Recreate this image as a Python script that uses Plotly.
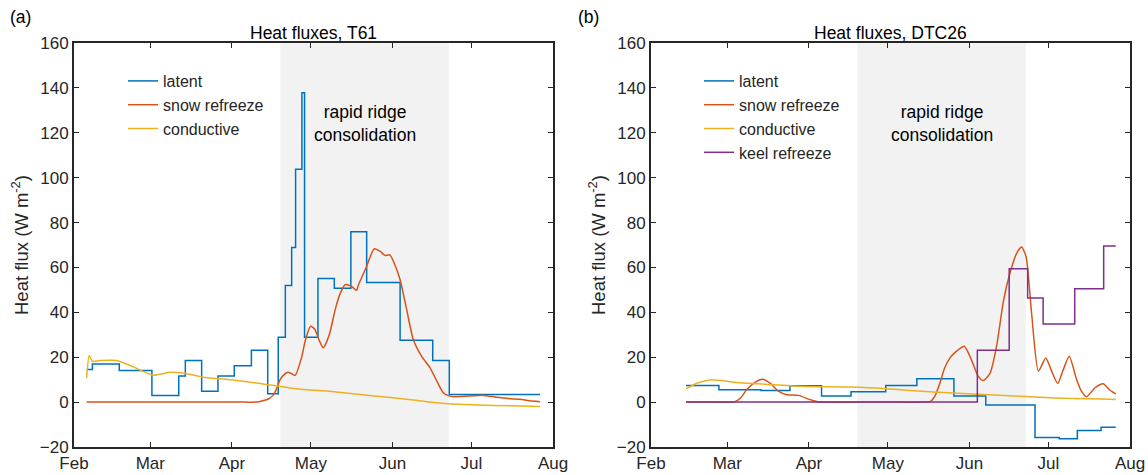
import numpy as np
import pandas as pd
import plotly.graph_objects as go

T0 = pd.Timestamp("2020-02-01")

# ---- Panel (a): T61 (x = days since 1 Feb 2020) ----
a_lat_days = [4.8, 7.0, 17.2, 29.6, 39.8, 42.3, 48.5, 54.7, 60.9, 67.4, 73.6, 77.6, 80.3,
              82.7, 84.2, 86.6, 87.6, 92.7, 98.9, 105.2, 111.2, 123.9, 136.3, 142.6, 177.1]
a_lat_vals = [14.5, 17.0, 14.1, 3.0, 11.6, 18.5, 4.8, 11.6, 16.2, 23.1, 3.7, 28.9, 51.9,
              68.9, 103.7, 137.8, 28.9, 55.1, 50.7, 75.9, 53.3, 27.6, 18.5, 3.4, 3.4]

a_snow_days = [4.8, 30.0, 50.0, 65.0, 69.0, 70.7, 72.5, 74.0, 75.6, 77.0, 78.3, 80.0, 81.3,
               82.5, 84.0, 86.5, 88.0, 89.9, 91.5, 93.0, 94.7, 97.0, 99.2,
               101.0, 103.0, 105.5, 107.4, 108.0, 111.0, 114.1, 116.5, 118.2, 120.0, 122.0,
               123.9, 126.4, 128.9, 132.1, 135.3, 138.0, 140.3, 142.5, 144.1, 147.0, 150.0,
               155.5, 160.0, 163.1, 166.0, 169.5, 173.0, 177.1]
a_snow_vals = [0.0, 0.0, 0.0, 0.0, 0.0, 0.3, 0.8, 1.5, 3.0, 6.0, 10.0, 12.5, 13.3,
               12.8, 11.9, 20.0, 28.0, 33.8, 32.5, 28.0, 24.2, 30.0, 41.0,
               48.0, 52.3, 51.5, 49.8, 52.0, 60.0, 68.3, 67.0, 65.3, 65.6, 61.0,
               54.5, 41.2, 27.9, 20.4, 15.3, 9.0, 4.2, 2.8, 2.4, 2.5, 2.7,
               3.0, 2.3, 1.8, 1.5, 1.3, 0.6, 0.2]

a_cond_days = [4.8, 5.8, 7.0, 10.0, 16.2, 22.5, 30.1, 36.5, 41.5, 49.1, 60.5, 70.7, 83.3,
               96.0, 108.7, 121.3, 134.0, 146.7, 159.3, 177.1]
a_cond_vals = [10.8, 20.8, 18.2, 18.5, 18.5, 15.7, 12.0, 13.3, 13.0, 11.1, 9.8, 8.3, 6.1,
               4.9, 3.4, 1.9, 0.2, -1.0, -1.5, -1.9]

# ---- Panel (b): DTC26 ----
b_lat_days = [13.3, 25.8, 41.8, 52.8, 64.8, 76.0, 89.2, 101.0, 115.1, 127.2, 145.9, 155.1,
              162.0, 171.0, 176.6]
b_lat_vals = [7.4, 5.5, 5.2, 7.3, 2.7, 4.6, 7.4, 10.4, 2.7, -1.3, -15.8, -16.3,
              -12.6, -11.2, -11.2]

b_snow_days = [13.3, 25.0, 30.0, 31.9, 34.0, 36.4, 39.5, 42.4, 45.5, 48.4, 51.6, 56.0,
               60.4, 63.0, 66.0, 80.0, 95.0, 103.0, 106.2, 108.0, 109.8, 111.5, 113.6,
               116.1, 119.0, 121.2, 124.3, 126.2, 128.8, 131.3, 133.9, 136.4, 139.0, 140.8,
               142.5, 144.6, 147.2, 150.0, 152.0, 154.5, 156.5, 158.9, 161.7, 163.5, 165.5,
               168.7, 171.8, 174.4, 176.6]
b_snow_vals = [0.0, 0.0, 0.0, 0.2, 1.8, 5.6, 8.8, 10.2, 8.2, 4.9, 3.3, 3.0,
               1.1, 0.3, 0.0, 0.0, 0.0, 0.0, 0.3, 3.0, 8.6, 15.0, 19.7,
               22.7, 24.9, 20.4, 11.6, 9.6, 12.8, 24.9, 44.9, 57.5, 66.5, 69.1,
               64.9, 39.7, 13.8, 19.7, 14.5, 8.3, 14.0, 20.4, 10.1, 5.0, 2.4,
               6.4, 8.2, 5.3, 3.7]

b_cond_days = [13.3, 17.0, 22.4, 33.8, 44.0, 56.6, 75.6, 88.3, 98.4, 107.3, 132.6, 151.6, 176.6]
b_cond_vals = [5.9, 8.2, 9.9, 8.6, 7.9, 7.1, 6.7, 6.1, 5.2, 4.5, 3.1, 1.9, 1.2]

b_keel_days = [13.3, 124.0, 136.1, 143.1, 149.0, 161.0, 172.0, 176.6]
b_keel_vals = [0.0, 23.1, 59.4, 46.4, 34.8, 50.5, 69.6, 69.6]

shade_days = [78.4, 142.4]
label_pos_days = 110.5
titles = ["Heat fluxes, T61", "Heat fluxes, DTC26"]
names = ["latent", "snow refreeze", "conductive", "keel refreeze"]
colors = ["#0072BD", "#D95319", "#EDB120", "#7E2F8E"]


def to_dates(days):
    return T0 + pd.to_timedelta(np.asarray(days, dtype=float), unit="D")


fig = go.Figure()

FONT = "Arial, Liberation Sans, sans-serif"
TXT = "#262626"

panels = [
    ("x", "y", "legend", [(a_lat_days, a_lat_vals, "hv"), (a_snow_days, a_snow_vals, "spline"),
                         (a_cond_days, a_cond_vals, "spline")]),
    ("x2", "y2", "legend2", [(b_lat_days, b_lat_vals, "hv"), (b_snow_days, b_snow_vals, "spline"),
                            (b_cond_days, b_cond_vals, "spline"), (b_keel_days, b_keel_vals, "hv")]),
]

for xa, ya, lg, series in panels:
    for i, (d, v, shp) in enumerate(series):
        line = dict(color=colors[i], width=1.5, shape=shp)
        if shp == "spline":
            line["smoothing"] = 0.6
        fig.add_trace(go.Scatter(
            x=to_dates(d), y=v, mode="lines", name=names[i], line=line,
            xaxis=xa, yaxis=ya, legend=lg, legendgroup=f"{lg}{i}",
        ))

xr = [T0, to_dates([182])[0]]
common_x = dict(type="date", range=xr, dtick="M1", tick0="2020-02-01", tickformat="%b",
                ticks="inside", ticklen=5, tickwidth=1, tickcolor=TXT, showline=True,
                linecolor=TXT, linewidth=2, mirror="ticks", showgrid=False, zeroline=False,
                automargin=False, tickfont=dict(family=FONT, size=17, color=TXT))
common_y = dict(range=[-20, 160], dtick=20, tick0=0, ticks="inside", ticklen=5, tickwidth=1,
                tickcolor=TXT, showline=True, linecolor=TXT, linewidth=2, mirror="ticks",
                showgrid=False, zeroline=False, automargin=False,
                tickfont=dict(family=FONT, size=17, color=TXT),
                title=dict(text="Heat flux (W m<sup>-2</sup>)", standoff=6,
                           font=dict(family=FONT, size=18.5, color=TXT)))

xl = [74 / 1148, 553 / 1148]
xrgt = [651 / 1148, 1130 / 1148]
yd = [28 / 475, 432 / 475]

fig.update_layout(
    width=1148, height=475, margin=dict(l=0, r=0, t=0, b=0, autoexpand=False),
    paper_bgcolor="white", plot_bgcolor="white",
    font=dict(family=FONT, color=TXT),
    xaxis=dict(domain=xl, anchor="y", **common_x),
    yaxis=dict(domain=yd, anchor="x", **common_y),
    xaxis2=dict(domain=xrgt, anchor="y2", **common_x),
    yaxis2=dict(domain=yd, anchor="x2", **common_y),
    legend=dict(x=123 / 1148, y=(475 - 64) / 475, xanchor="left", yanchor="top",
                bgcolor="rgba(0,0,0,0)", font=dict(family=FONT, size=16, color=TXT),
                traceorder="grouped", tracegroupgap=0),
    legend2=dict(x=699 / 1148, y=(475 - 64) / 475, xanchor="left", yanchor="top",
                 bgcolor="rgba(0,0,0,0)", font=dict(family=FONT, size=16, color=TXT),
                 traceorder="grouped", tracegroupgap=0),
    showlegend=True,
)

sd = to_dates(shade_days)
for xa, ya in [("x", "y"), ("x2", "y2")]:
    fig.add_shape(type="rect", xref=xa, yref=f"{ya} domain", x0=sd[0], x1=sd[1], y0=0, y1=1,
                  fillcolor="#F2F2F2", line=dict(width=0), layer="below")
    fig.add_annotation(xref=xa, yref=ya, x=to_dates([label_pos_days])[0], y=124,
                       xanchor="center", yanchor="middle",
                       text="rapid ridge<br>consolidation", showarrow=False,
                       font=dict(family=FONT, size=17.5, color="#000000"))

for k, xd in enumerate([xl, xrgt]):
    fig.add_annotation(xref="paper", yref="paper", x=sum(xd) / 2, y=(475 - 33) / 475,
                       xanchor="center", yanchor="middle", text=titles[k], showarrow=False,
                       font=dict(family=FONT, size=17.5, color="#000000"))
fig.add_annotation(xref="paper", yref="paper", x=8 / 1148, y=(475 - 17) / 475, xanchor="left",
                   yanchor="middle", text="(a)", showarrow=False,
                   font=dict(family=FONT, size=17.5, color="#000000"))
fig.add_annotation(xref="paper", yref="paper", x=576 / 1148, y=(475 - 17) / 475, xanchor="left",
                   yanchor="middle", text="(b)", showarrow=False,
                   font=dict(family=FONT, size=17.5, color="#000000"))

fig.write_html("out.html")
